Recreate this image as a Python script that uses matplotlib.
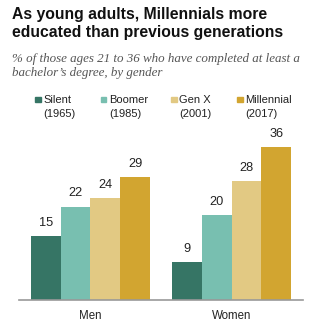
import numpy as np
import matplotlib
matplotlib.use('Agg')
import matplotlib.pyplot as plt
from matplotlib.patches import Rectangle

# 数据
groups = ['Men', 'Women']
generations = ['Silent', 'Boomer', 'Gen X', 'Millennial']
years = ['(1965)', '(1985)', '(2001)', '(2017)']
men = [15, 22, 24, 29]
women = [9, 20, 28, 36]
colors = ['#367565', '#78bfb0', '#e2c983', '#d2a530']

W, H = 323, 329
fig = plt.figure(figsize=(W / 100, H / 100), dpi=100)
plt.rcParams['font.family'] = ['Liberation Sans', 'DejaVu Sans']

def fx(px):
    return px / W

def fy(py):
    return 1 - py / H

# 标题 + 副标题
title = ['As young adults, Millennials more', 'educated than previous generations']
for y, line in zip([15, 32], title):
    fig.text(fx(12), fy(y), line, fontsize=11.35, fontweight='bold', color='#111111',
             va='center', ha='left')
sub = ['% of those ages 21 to 36 who have completed at least a', 'bachelor\u2019s degree, by gender']
for y, line in zip([59, 73], sub):
    fig.text(fx(12), fy(y), line, fontsize=9.4, style='italic',
             family=['Liberation Serif', 'DejaVu Serif'], color='#555555',
             va='center', ha='left')

# 图例
leg_x = [35, 101, 171, 237]
for x, name, yr, c in zip(leg_x, generations, years, colors):
    fig.patches.append(Rectangle((fx(x), fy(102.5)), 5.5 / W, 5.5 / H, color=c,
                                 transform=fig.transFigure, figure=fig))
    fig.text(fx(x + 8), fy(100), name, fontsize=8, color='#222222', va='center', ha='left')
    fig.text(fx(x + 8), fy(114), yr, fontsize=8, color='#222222', va='center', ha='left')

# 柱状图
ymax = 40
ax = fig.add_axes([fx(19), (H - 300) / H, fx(303) - fx(19), ymax * 4.25 / H])
width = 0.211
xc = np.arange(len(groups))
data = np.array([men, women])
for i, c in enumerate(colors):
    pos = xc + (i - 1.5) * width
    bars = ax.bar(pos, data[:, i], width=width, color=c, linewidth=0)
    for b, v in zip(bars, data[:, i]):
        ax.text(b.get_x() + b.get_width() / 2, v + 3.1, str(v), ha='center', va='center',
                fontsize=9.2, color='#222222')

ax.set_xlim(-0.507, 1.507)
ax.set_ylim(0, ymax)
ax.set_yticks([])
ax.set_xticks(xc)
ax.set_xticklabels(groups, fontsize=8.3, color='#222222')
ax.tick_params(axis='x', length=0, pad=7)
for s in ['top', 'right', 'left']:
    ax.spines[s].set_visible(False)
ax.spines['bottom'].set_color('#999999')
ax.spines['bottom'].set_linewidth(1.2)

fig.savefig('out.png', dpi=100)
